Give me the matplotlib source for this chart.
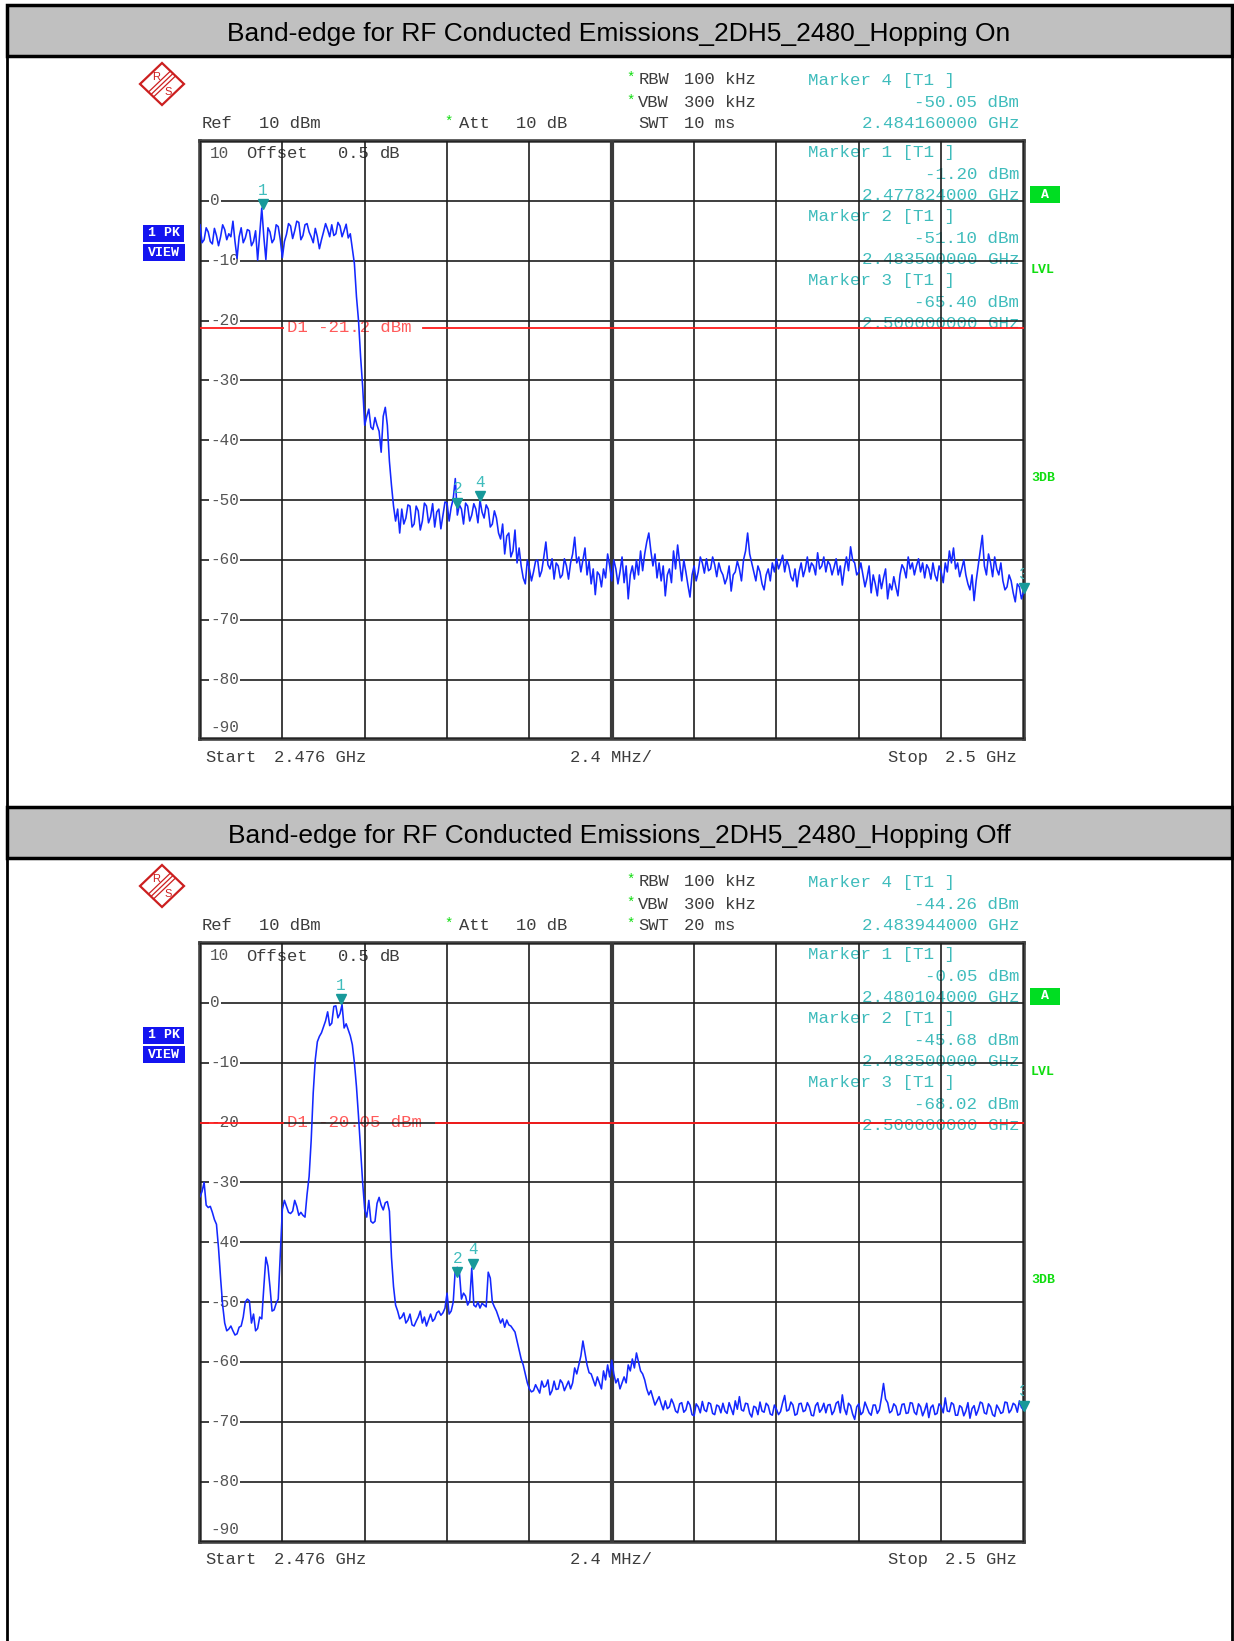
import numpy as np
import matplotlib
matplotlib.use('Agg')
import matplotlib.pyplot as plt
from matplotlib.patches import Rectangle, Polygon
from matplotlib.lines import Line2D
from matplotlib.transforms import offset_copy, blended_transform_factory

W, H = 1234, 1641

# sweep settings (same for both plots)
start_ghz = 2.476
stop_ghz = 2.500
div_mhz = 2.4
ref_dbm = 10
bottom_dbm = -90

# Hopping On trace, dBm
top_trace = [
    -4.0, -7.0, -6.5, -4.5, -5.2, -6.8, -7.2, -4.6, -5.8, -7.5,
    -6.0, -4.0, -4.8, -6.5, -5.5, -6.0, -3.4, -6.8, -9.6, -6.0,
    -4.5, -7.0, -6.2, -4.8, -5.0, -7.5, -6.8, -5.0, -9.9, -5.5,
    -1.2, -6.0, -9.8, -4.5, -5.2, -7.0, -6.4, -4.0, -4.3, -6.5,
    -9.5, -6.8, -5.6, -3.8, -4.2, -6.3, -5.0, -3.4, -3.6, -6.5,
    -5.8, -4.0, -3.8, -5.2, -6.0, -7.0, -4.6, -6.0, -8.0, -6.5,
    -5.2, -3.8, -4.8, -6.0, -4.0, -5.8, -5.5, -3.6, -4.2, -6.0,
    -5.0, -3.9, -6.2, -5.5, -8.0, -10.5, -16.0, -20.0, -26.0, -31.0,
    -37.5, -36.0, -34.8, -37.8, -38.2, -36.2, -37.5, -38.5, -42.0, -36.0,
    -34.5, -37.5, -43.5, -47.5, -51.0, -53.5, -51.5, -55.5, -51.5, -54.0,
    -53.0, -50.8, -51.0, -54.5, -54.0, -51.0, -51.8, -55.0, -53.5, -50.5,
    -51.0, -53.8, -52.8, -50.6, -54.5, -52.0, -51.5, -54.8, -52.5, -50.3,
    -50.5, -53.5, -51.2, -49.8, -46.4, -52.5, -50.8, -51.5, -54.0, -50.5,
    -51.0, -53.5, -52.5, -50.6, -51.5, -53.8, -50.0, -52.0, -53.0, -50.8,
    -51.5, -54.5, -54.0, -51.8, -53.0, -55.5, -56.5, -54.0, -59.0, -56.0,
    -55.5, -59.5, -58.5, -55.0, -60.5, -58.0, -61.0, -63.0, -64.0, -60.0,
    -61.5, -63.5, -62.0, -60.2, -60.0, -62.8, -61.8, -59.5, -57.0, -60.8,
    -61.5, -59.8, -63.2, -60.5, -61.0, -63.0, -62.5, -59.8, -61.0, -63.2,
    -60.5, -59.0, -56.2, -60.5, -59.5, -62.0, -60.0, -58.0, -62.5, -60.2,
    -64.0, -61.5, -65.8, -62.0, -62.5, -64.5, -61.5, -63.0, -59.0, -61.0,
    -63.5, -60.0, -61.5, -64.0, -62.0, -59.5, -63.8, -61.0, -66.5, -62.5,
    -61.0, -63.2, -60.0, -62.5, -58.5, -61.8, -59.0, -57.0, -55.5, -58.5,
    -61.0, -59.0, -63.0, -60.5, -63.5, -61.0, -66.0, -62.5, -61.5, -63.8,
    -58.5, -61.5, -57.5, -60.5, -63.5, -60.0, -62.0, -64.2, -66.2, -62.5,
    -61.0, -63.5, -62.0, -59.5, -60.5, -62.2, -59.8, -61.8, -61.5, -59.5,
    -60.8, -62.8, -60.5, -61.8, -62.5, -64.0, -63.0, -61.0, -65.2, -62.5,
    -62.0, -60.2, -61.5, -63.5, -60.0, -58.5, -55.5, -59.0, -60.5, -62.0,
    -63.5, -61.0, -62.0, -64.0, -65.0, -62.5, -61.5, -63.5, -60.5, -62.0,
    -59.8, -61.5, -60.5, -59.2, -62.0, -60.0, -61.0, -62.8, -63.5, -61.5,
    -64.5, -62.0, -60.5, -62.8, -61.5, -59.5, -62.0, -60.5, -61.0, -62.5,
    -58.8, -61.5, -61.0, -59.5, -62.0, -60.2, -60.8, -62.5, -61.2, -59.8,
    -62.5, -61.0, -64.2, -61.5, -59.5, -61.8, -57.8, -60.0, -60.5, -62.5,
    -62.0, -60.5, -62.5, -64.5, -63.0, -61.0, -65.5, -62.5, -64.0, -66.0,
    -62.5, -64.8, -63.0, -61.5, -66.5, -64.0, -65.0, -62.8, -64.5, -66.0,
    -62.5, -60.8, -61.5, -63.0, -59.5, -61.5, -60.5, -62.5, -61.0, -59.8,
    -62.0, -60.5, -63.0, -60.8, -61.5, -63.2, -60.5, -62.5, -63.5, -61.0,
    -62.0, -63.8, -60.5, -62.0, -58.5, -60.5, -58.0, -61.5, -60.5, -62.8,
    -61.5, -60.0, -62.5, -64.0, -65.0, -62.5, -66.8, -63.5, -61.0, -58.5,
    -55.9, -61.0, -62.5, -59.0, -60.5, -62.8, -59.5, -61.5, -62.5, -60.5,
    -63.5, -65.0, -64.5, -62.5, -63.5, -65.5, -67.0, -64.0, -64.5, -66.5,
    -65.4,
]

# Hopping Off trace, dBm
bottom_trace = [
    -32.4, -31.5, -30.0, -33.8, -34.2, -34.0, -35.0, -36.2, -37.0, -41.0,
    -46.0, -50.5, -53.5, -54.8, -54.5, -54.0, -54.8, -55.5, -55.3, -54.2,
    -54.0, -52.5, -50.0, -49.5, -49.8, -53.5, -52.0, -54.8, -54.4, -52.5,
    -52.8, -47.5, -42.5, -44.0, -47.5, -51.5, -51.3, -50.2, -49.5, -42.0,
    -34.5, -33.0, -34.0, -35.0, -35.2, -34.8, -33.0, -34.0, -35.5, -35.0,
    -35.5, -35.8, -32.0, -29.0, -23.0, -15.0, -9.5, -6.5, -5.6, -5.0,
    -4.0, -3.0, -1.5, -3.8, -3.4, -0.6, -0.5, -2.5, -1.8, -0.3,
    -4.2, -3.5, -4.5, -5.5, -7.0, -10.0, -14.0, -19.0, -24.5, -30.0,
    -34.5, -35.8, -33.0, -36.5, -36.8, -36.5, -33.5, -32.5, -33.8, -34.6,
    -33.4, -33.2, -34.8, -42.5, -47.4, -50.5, -51.5, -52.8, -52.5, -51.8,
    -53.5, -53.0, -52.0, -53.8, -54.0, -53.2, -52.5, -51.5, -53.5, -52.5,
    -54.0, -53.0, -52.0, -53.2, -52.8, -51.8, -51.5, -52.2, -51.8, -51.0,
    -48.5, -52.0, -51.5, -50.0, -44.5, -44.2, -45.0, -49.5, -48.5, -49.0,
    -50.5, -49.8, -44.3, -50.5, -50.8, -50.0, -51.0, -50.2, -50.5, -50.8,
    -45.0, -46.0, -50.0, -50.8, -51.5, -52.5, -53.5, -52.8, -54.2, -53.0,
    -53.8, -54.0, -54.5, -55.0, -56.5, -58.0, -59.5, -60.5, -62.0, -63.5,
    -64.5, -65.0, -64.8, -63.8, -64.5, -65.2, -63.2, -64.2, -64.0, -63.0,
    -65.5, -64.8, -63.2, -64.6, -64.5, -63.0, -63.5, -64.8, -64.0, -63.2,
    -64.5, -63.5, -61.0, -62.0, -60.5, -59.0, -56.5, -58.5, -60.5, -61.8,
    -62.0, -63.0, -64.0, -62.5, -63.5, -64.5, -61.5, -63.0, -60.5, -62.5,
    -59.7, -62.0, -63.5, -62.8, -64.5, -63.5, -62.5, -63.5, -60.5, -61.5,
    -59.5, -61.0, -58.5, -60.0, -61.5, -62.0, -63.0, -64.5, -65.5, -64.8,
    -66.0, -67.2, -66.5, -65.8, -67.0, -68.0, -66.5, -67.8, -67.5, -66.2,
    -67.0, -68.2, -68.5, -67.0, -66.8, -68.4, -68.0, -66.6, -67.2, -68.8,
    -69.0, -67.0, -67.5, -68.5, -66.6, -68.0, -68.3, -66.8, -67.0, -68.6,
    -68.8, -67.2, -67.4, -68.5, -66.9, -68.2, -68.6, -66.8, -67.8, -68.8,
    -66.5, -67.9, -65.8, -68.0, -68.2, -66.9, -67.0, -68.6, -69.2, -67.4,
    -67.6, -68.8, -66.7, -68.2, -68.4, -66.9, -67.3, -68.7, -68.9, -67.2,
    -67.9, -68.8, -68.3, -66.8, -65.6, -68.2, -68.0, -66.7, -67.2, -68.9,
    -68.7, -67.0, -66.9, -68.3, -68.1, -66.8, -67.5, -68.9, -69.0, -67.3,
    -66.8, -68.4, -67.9, -66.9, -68.5, -67.2, -67.1, -68.8, -68.2, -66.9,
    -66.6, -68.5, -65.5, -67.8, -68.8, -66.9, -67.3, -68.7, -69.6, -67.5,
    -67.0, -68.8, -68.4, -66.7, -67.6, -68.5, -68.9, -67.2, -67.2, -68.6,
    -68.0, -66.0, -63.6, -66.2, -66.8, -68.5, -68.2, -67.0, -67.4, -68.9,
    -68.7, -67.1, -67.0, -68.6, -68.5, -66.8, -66.9, -68.4, -68.8, -67.0,
    -67.5, -69.0, -68.1, -66.9, -69.3, -67.6, -67.2, -68.8, -68.6, -67.0,
    -67.4, -68.5, -66.0, -68.2, -68.3, -66.8, -67.1, -68.9, -68.9, -67.3,
    -67.6, -69.0, -68.2, -66.8, -69.4, -67.8, -67.3, -68.9, -68.0, -66.7,
    -66.9, -68.5, -68.7, -67.0, -67.5, -68.8, -69.1, -67.2, -67.8, -68.6,
    -68.4, -66.7, -66.8, -68.5, -68.0, -66.9, -67.2, -68.4, -66.5, -67.6,
    -68.02,
]

top_title = 'Band-edge for RF Conducted Emissions_2DH5_2480_Hopping On'
bottom_title = 'Band-edge for RF Conducted Emissions_2DH5_2480_Hopping Off'

# markers, in the order the readout lists them (4 first)
marker_ids = [4, 1, 2, 3]
top_marker_ghz = [2.484160, 2.477824, 2.483500, 2.500000]
top_marker_dbm = [-50.05, -1.20, -51.10, -65.40]
bottom_marker_ghz = [2.483944, 2.480104, 2.483500, 2.500000]
bottom_marker_dbm = [-44.26, -0.05, -45.68, -68.02]

top_d1 = -21.2
bottom_d1 = -20.05
top_swt = '10 ms'
bottom_swt = '20 ms'

MONO = 'Liberation Mono'
GREY = '#3c3c3c'
TEAL = '#3fbcbc'
TEAL_DARK = '#17999a'
GREEN = '#10dd10'
BLUE = '#1428ff'

fig = plt.figure(figsize=(W / 100, H / 100), dpi=100)


def fx(px):
    return px / W


def fy(py):
    return 1 - py / H


def rect(x0, y0, x1, y1, **kw):
    fig.add_artist(Rectangle((fx(x0), fy(y1)), (x1 - x0) / W, (y1 - y0) / H,
                             transform=fig.transFigure, **kw))


def line(x0, y0, x1, y1, **kw):
    fig.add_artist(Line2D([fx(x0), fx(x1)], [fy(y0), fy(y1)],
                          transform=fig.transFigure, **kw))


def ftext(x, y, s, **kw):
    kw.setdefault('family', MONO)
    kw.setdefault('fontsize', 12.3)
    kw.setdefault('color', GREY)
    kw.setdefault('va', 'center')
    fig.text(fx(x), fy(y), s, **kw)


# outer table lines
line(7, 5, 7, H, color='black', lw=2)
line(1232, 5, 1232, H, color='black', lw=2)


def draw_panel(dy, title, trace, m_ghz, m_dbm, d1, swt, swt_star):
    # title bar
    rect(7, 5 + dy, 1232, 56 + dy, facecolor='#c0c0c0', edgecolor='black', lw=2.5)
    ftext(619, 33.5 + dy, title, family='Liberation Sans', fontsize=19,
          color='black', ha='center')

    # R&S logo
    cx, cy = 162, 84 + dy
    pts = [(cx - 22, cy), (cx, cy - 21), (cx + 22, cy), (cx, cy + 21)]
    fig.add_artist(Polygon([(fx(a), fy(b)) for a, b in pts], closed=True, fill=False,
                           edgecolor='#cc1f1f', lw=1.6, transform=fig.transFigure))
    for k in (-2.5, 0, 2.5):
        line(cx - 11 + k, cy + 10.5 + k, cx + 11 + k, cy - 10.5 + k, color='#cc1f1f', lw=0.9)
    ftext(cx - 6, cy - 7, 'R', family='Liberation Sans', fontsize=8, color='#cc1f1f', ha='center')
    ftext(cx + 6, cy + 8, 'S', family='Liberation Sans', fontsize=8, color='#cc1f1f', ha='center')

    # trace mode boxes
    rect(143, 225 + dy, 184, 242 + dy, facecolor='#1414f0', edgecolor='none')
    rect(143, 244 + dy, 185, 261 + dy, facecolor='#1414f0', edgecolor='none')
    ftext(163.5, 233.5 + dy, '1 PK', color='white', fontsize=9.5, weight='bold', ha='center')
    ftext(164, 252.5 + dy, 'VIEW', color='white', fontsize=9.5, weight='bold', ha='center')

    # right side flags
    rect(1030, 186 + dy, 1060, 203 + dy, facecolor='#00dd22', edgecolor='none')
    ftext(1045, 194.5 + dy, 'A', color='white', fontsize=9.5, weight='bold', ha='center')
    ftext(1031, 270 + dy, 'LVL', color=GREEN, fontsize=9.5, weight='bold')
    ftext(1031, 478 + dy, '3DB', color=GREEN, fontsize=9.5, weight='bold')

    # instrument settings
    ftext(201.7, 124 + dy, 'Ref')
    ftext(259, 124 + dy, '%d dBm' % ref_dbm)
    ftext(444.5, 122 + dy, '*', color=GREEN, fontsize=10)
    ftext(458.7, 124 + dy, 'Att')
    ftext(516, 124 + dy, '10 dB')
    for y, name, val, star in [(80, 'RBW', '100 kHz', True),
                               (102.7, 'VBW', '300 kHz', True),
                               (123.7, 'SWT', swt, swt_star)]:
        if star:
            ftext(626, y - 2 + dy, '*', color=GREEN, fontsize=10)
        ftext(638.4, y + dy, name)
        ftext(684, y + dy, val)
    ftext(205.5, 757.3 + dy, 'Start')
    ftext(274, 757.3 + dy, '%.3f GHz' % start_ghz)
    ftext(569.8, 757.3 + dy, '%.1f MHz/' % div_mhz)
    ftext(887, 757.3 + dy, 'Stop')
    ftext(1016.7, 757.3 + dy, '%.1f GHz' % stop_ghz, ha='right')

    # screen
    top, bot = 141 + dy, 739.5 + dy
    ax = fig.add_axes([fx(200), fy(bot), 823.5 / W, (bot - top) / H])
    ax.set_xlim(start_ghz, stop_ghz)
    ax.set_ylim(bottom_dbm, ref_dbm)
    ax.set_xticks(np.arange(11) * div_mhz / 1000 + start_ghz)
    ax.set_yticks(np.arange(bottom_dbm, ref_dbm + 1, 10))
    ax.tick_params(length=0, labelbottom=False, labelleft=False)
    ax.set_axisbelow(False)
    ax.grid(True, color='#1e1e1e', lw=1.2)
    for s in ax.spines.values():
        s.set_linewidth(2.6)
        s.set_color('#404040')
    ax.axvline((start_ghz + stop_ghz) / 2, color='#3a3a3a', lw=3, zorder=2.6)

    # level labels, boxed over the grid
    lab_tr = ax.get_yaxis_transform()
    for lev in range(0, bottom_dbm + 1, -10):
        ax.text(0.012, lev, '%d' % lev, transform=lab_tr, family=MONO, fontsize=11.5,
                color='#555555', va='center', ha='left', zorder=3,
                bbox=dict(facecolor='white', edgecolor='none', pad=0.8))
    ax.text(0.012, ref_dbm, '%d' % ref_dbm, family=MONO, fontsize=11.5, color='#555555',
            va='center', ha='left', zorder=1,
            transform=offset_copy(lab_tr, fig=fig, y=-13, units='dots'))
    ax.text(0.012, bottom_dbm, '%d' % bottom_dbm, family=MONO, fontsize=11.5, color='#555555',
            va='center', ha='left', zorder=1,
            transform=offset_copy(lab_tr, fig=fig, y=12, units='dots'))
    for x, s in [(246, 'Offset'), (338, '0.5'), (380, 'dB')]:
        ax.text(fx(x), fy(154 + dy), s, transform=fig.transFigure, family=MONO,
                fontsize=12.3, color=GREY, va='center', zorder=1)

    # display line D1 (gap left for its label)
    ax.axhline(d1, xmin=0, xmax=0.101, color='#ff1a1a', lw=1.3, zorder=3.5)
    gap_end = 0.271 if len('%g' % d1) < 6 else 0.286
    ax.axhline(d1, xmin=gap_end, xmax=1, color='#ff1a1a', lw=1.3, zorder=3.5)
    ax.text(fx(286.7), d1, 'D1 %g dBm' % d1,
            transform=blended_transform_factory(fig.transFigure, ax.transData),
            family=MONO, fontsize=12.5, color='#ff5a5a', va='center', ha='left', zorder=1)

    # marker readout
    for k, (mid, g, v) in enumerate(zip(marker_ids, m_ghz, m_dbm)):
        y0 = 80.7 if k == 0 else 152.7 + 64 * (k - 1)
        for y, s, ha, x in [(y0, 'Marker %d [T1 ]' % mid, 'left', 808),
                            (y0 + 21.5, '%.2f dBm' % v, 'right', 1019.5),
                            (y0 + 42.7, '%.9f GHz' % g, 'right', 1019.5)]:
            ax.text(fx(x), fy(y + dy), s, transform=fig.transFigure, family=MONO,
                    fontsize=12.6, color=TEAL, va='center', ha=ha, zorder=1)

    # trace
    freqs = np.linspace(start_ghz, stop_ghz, len(trace))
    ax.plot(freqs, trace, color=BLUE, lw=1.15, zorder=4)

    # marker symbols
    tri_tr = offset_copy(ax.transData, fig=fig, y=4, units='dots')
    num_tr = offset_copy(ax.transData, fig=fig, y=18, units='dots')
    for mid, g, v in zip(marker_ids, m_ghz, m_dbm):
        ax.plot([g], [v], marker='v', ms=7.5, color=TEAL_DARK, transform=tri_tr,
                zorder=5, clip_on=False)
        ax.text(g, v, str(mid), transform=num_tr, family=MONO, fontsize=11.5,
                color=TEAL, ha='center', va='center', zorder=5, clip_on=True)


draw_panel(0, top_title, top_trace, top_marker_ghz, top_marker_dbm, top_d1, top_swt, False)
draw_panel(802, bottom_title, bottom_trace, bottom_marker_ghz, bottom_marker_dbm,
           bottom_d1, bottom_swt, True)

fig.savefig('out.png', dpi=100)
